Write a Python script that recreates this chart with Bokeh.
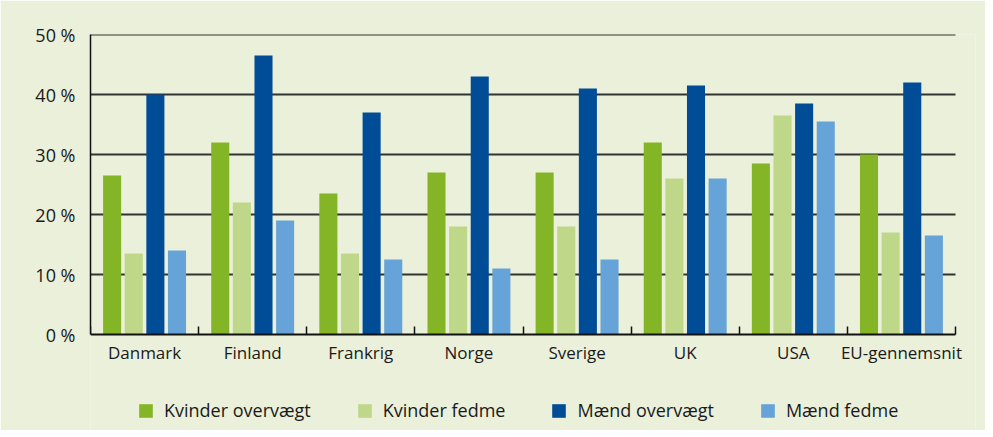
import numpy as np
from bokeh.plotting import figure
from bokeh.models import (ColumnDataSource, Range1d, FixedTicker, Legend, LegendItem, LinearAxis)
from bokeh.transform import dodge
from bokeh.embed import file_html
from bokeh.resources import INLINE

countries = ["Danmark", "Finland", "Frankrig", "Norge", "Sverige", "UK", "USA", "EU-gennemsnit"]
kvinder_overvaegt = [26.5, 32.0, 23.5, 27.0, 27.0, 32.0, 28.5, 30.0]
kvinder_fedme = [13.5, 22.0, 13.5, 18.0, 18.0, 26.0, 36.5, 17.0]
maend_overvaegt = [40.0, 46.5, 37.0, 43.0, 41.0, 41.5, 38.5, 42.0]
maend_fedme = [14.0, 19.0, 12.5, 11.0, 12.5, 26.0, 35.5, 16.5]
series_names = ["Kvinder overvægt", "Kvinder fedme", "Mænd overvægt", "Mænd fedme"]
series_colors = ["#84B527", "#BFD788", "#004C97", "#66A3D8"]
y_ticks = [0, 10, 20, 30, 40, 50]

BG = "#EAF0DA"
FONT = "Open Sans"

n = len(countries)
centers = list(np.arange(n) + 0.5)
source = ColumnDataSource(dict(
    x=centers,
    ko=kvinder_overvaegt,
    kf=kvinder_fedme,
    mo=maend_overvaegt,
    mf=maend_fedme,
))

# the frame extends below zero (and a little to the right) so that the axis labels
# and the legend sit inside it
FRAME_W = 885
p = figure(frame_width=FRAME_W, frame_height=396, output_backend="svg", toolbar_location=None,
           x_range=Range1d(0, n * FRAME_W / 865), y_range=Range1d(-16, 50),
           x_axis_location=None,
           min_border_left=90, min_border_right=10, min_border_top=34, min_border_bottom=0)
p.background_fill_color = BG
p.border_fill_color = BG
p.outline_line_color = None

# horizontal grid lines spanning only the categories
grid_y = y_ticks[1:]
p.segment(x0=[0] * len(grid_y), x1=[n] * len(grid_y), y0=grid_y, y1=grid_y,
          line_color="#333333", line_width=1.8, level="underlay")

offsets = [-0.3, -0.1, 0.1, 0.3]
fields = ["ko", "kf", "mo", "mf"]
renderers = []
for f, off, col in zip(fields, offsets, series_colors):
    r = p.vbar(x=dodge("x", off, range=p.x_range), top=f, width=0.167, bottom=0,
               source=source, fill_color=col, line_color=None)
    renderers.append(r)

# x axis drawn at y = 0: labels at centres, small ticks at category boundaries
xa = LinearAxis(fixed_location=0)
xa.ticker = FixedTicker(ticks=centers, minor_ticks=list(range(n + 1)))
xa.bounds = (0, n)
xa.major_label_overrides = {c: name for c, name in zip(centers, countries)}
xa.major_tick_in = 0
xa.major_tick_out = 0
xa.minor_tick_in = 8
xa.minor_tick_out = 0
xa.minor_tick_line_color = "#111111"
xa.minor_tick_line_width = 1.5
xa.axis_line_color = "#111111"
xa.axis_line_width = 2
xa.major_label_text_font = FONT
xa.major_label_text_font_size = "17px"
xa.major_label_text_color = "#1a1a1a"
xa.major_label_standoff = 6
p.add_layout(xa, "below")

ya = p.yaxis[0]
ya.ticker = FixedTicker(ticks=y_ticks)
ya.bounds = (0, 50)
ya.major_label_overrides = {t: f"{t} %" for t in y_ticks}
ya.major_tick_in = 0
ya.major_tick_out = 0
ya.minor_tick_line_color = None
ya.axis_line_color = "#111111"
ya.axis_line_width = 1.5
ya.major_label_text_font = FONT
ya.major_label_text_font_size = "18px"
ya.major_label_text_color = "#1a1a1a"
ya.major_label_standoff = 15

for g in p.xgrid:
    g.grid_line_color = None
for g in p.ygrid:
    g.grid_line_color = None

legend = Legend(items=[LegendItem(label=s, renderers=[r]) for s, r in zip(series_names, renderers)],
                orientation="horizontal", location=(47, 8),
                background_fill_alpha=0, border_line_color=None,
                glyph_width=17, glyph_height=17, label_standoff=10, spacing=45,
                label_text_font=FONT, label_text_font_size="18px", label_text_color="#1a1a1a",
                margin=0, padding=0)
p.add_layout(legend)

html = file_html(p, INLINE)
open("out.html", "w").write(html)
